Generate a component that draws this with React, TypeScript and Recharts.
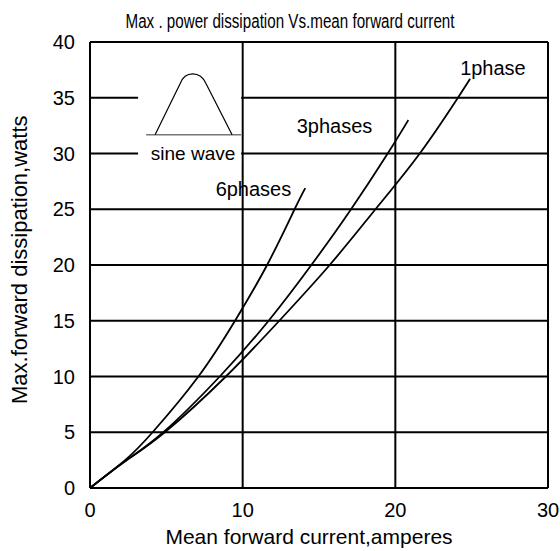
import { LineChart, Line, XAxis, YAxis, CartesianGrid, ReferenceArea } from "recharts";

const X_TICKS = [0, 10, 20, 30];
const Y_TICKS = [0, 5, 10, 15, 20, 25, 30, 35, 40];

const AMPS_6PH = [0, 2.3, 4.1, 7.1, 9.5, 11.6, 13.4, 14.1];
const WATTS_6PH = [0, 2.5, 5, 10, 15, 20, 25, 26.9];

const AMPS_3PH = [0, 2.3, 4.8, 8.5, 11.7, 14.5, 17.1, 19.5, 20.85];
const WATTS_3PH = [0, 2.4, 5, 10, 15, 20, 25, 30, 33];

const AMPS_1PH = [0, 2.3, 4.9, 8.9, 12.4, 15.7, 18.7, 21.6, 24.1, 24.9];
const WATTS_1PH = [0, 2.4, 5, 10, 15, 20, 25, 30, 35, 36.7];

const SERIES_NAMES = ["6phases", "3phases", "1phase"];

const toRows = (xs: number[], ys: number[]) => xs.map((a, i) => ({ a, w: ys[i] }));

const FONT = "'Liberation Sans', Arial, sans-serif";
const NARROW = "'Liberation Sans Narrow', 'Liberation Sans', Arial, sans-serif";

// label offsets from the end of each curve
const LABEL_SHIFT: Record<string, { dx: number; dy: number; anchor: string }> = {
  "6phases": { dx: -14, dy: 8, anchor: "end" },
  "3phases": { dx: -36, dy: 13, anchor: "end" },
  "1phase": { dx: -10, dy: -4, anchor: "start" },
};

const endLabel = (name: string, count: number) => (props: any) => {
  const { cx, cy, index } = props;
  if (index !== count - 1) return <g key={`d-${name}-${index}`} />;
  const s = LABEL_SHIFT[name];
  return (
    <text
      key={`d-${name}-${index}`}
      x={cx + s.dx}
      y={cy + s.dy}
      textAnchor={s.anchor}
      fontSize={20}
      fontFamily={FONT}
      fill="#000"
    >
      {name}
    </text>
  );
};

const SineInset = (props: any) => {
  const { x, y, width, height } = props;
  return (
    <g>
      <rect x={x} y={y} width={width} height={height} fill="#fff" />
      <line x1={x + 8} y1={y + 91} x2={x + width} y2={y + 91} stroke="#777" strokeWidth={1.5} />
      <path
        d={`M${x + 17},${y + 91} L${x + 42},${y + 40} C${x + 47},${y + 27} ${x + 62},${y + 27} ${x + 68},${y + 40} L${x + 94},${y + 91}`}
        fill="none"
        stroke="#000"
        strokeWidth={1.2}
      />
      <text x={x + 55} y={y + 116} textAnchor="middle" fontSize={19} fontFamily={FONT} fill="#000">
        sine wave
      </text>
    </g>
  );
};

export default function App() {
  const sets = [
    toRows(AMPS_6PH, WATTS_6PH),
    toRows(AMPS_3PH, WATTS_3PH),
    toRows(AMPS_1PH, WATTS_1PH),
  ];
  return (
    <div style={{ position: "absolute", left: 0, top: 0, background: "#fff" }}>
      <LineChart width={560} height={551} margin={{ top: 42, right: 12, bottom: 23, left: 40 }}>
        <CartesianGrid stroke="#000" strokeWidth={2} />
        <XAxis
          type="number"
          dataKey="a"
          domain={[0, 30]}
          ticks={X_TICKS}
          height={40}
          tickSize={0}
          tickMargin={15}
          axisLine={false}
          tick={{ fontSize: 20, fill: "#000", fontFamily: FONT }}
          label={{
            value: "Mean forward current,amperes",
            position: "insideBottom",
            offset: -16,
            dx: -10,
            fontSize: 21,
            fill: "#000",
            fontFamily: FONT,
          }}
        />
        <YAxis
          type="number"
          domain={[0, 40]}
          ticks={Y_TICKS}
          width={50}
          tickSize={0}
          tickMargin={15}
          axisLine={false}
          tick={{ fontSize: 20, fill: "#000", fontFamily: FONT }}
          label={{
            value: "Max.forward dissipation,watts",
            angle: -90,
            position: "insideLeft",
            offset: -21,
            dy: 139,
            fontSize: 22,
            fill: "#000",
            fontFamily: FONT,
          }}
        />
        <ReferenceArea x1={3.15} x2={9.9} y1={29} y2={39.85} shape={SineInset} />
        {sets.map((rows, i) => (
          <Line
            key={SERIES_NAMES[i]}
            data={rows}
            dataKey="w"
            type="natural"
            stroke="#000"
            strokeWidth={1.8}
            dot={endLabel(SERIES_NAMES[i], rows.length)}
            activeDot={false}
            isAnimationActive={false}
          />
        ))}
        <text
          x={290}
          y={28}
          textAnchor="middle"
          fontSize={20}
          fontFamily={NARROW}
          textLength={329}
          lengthAdjust="spacingAndGlyphs"
          fill="#000"
        >
          Max . power dissipation Vs.mean forward current
        </text>
      </LineChart>
    </div>
  );
}
